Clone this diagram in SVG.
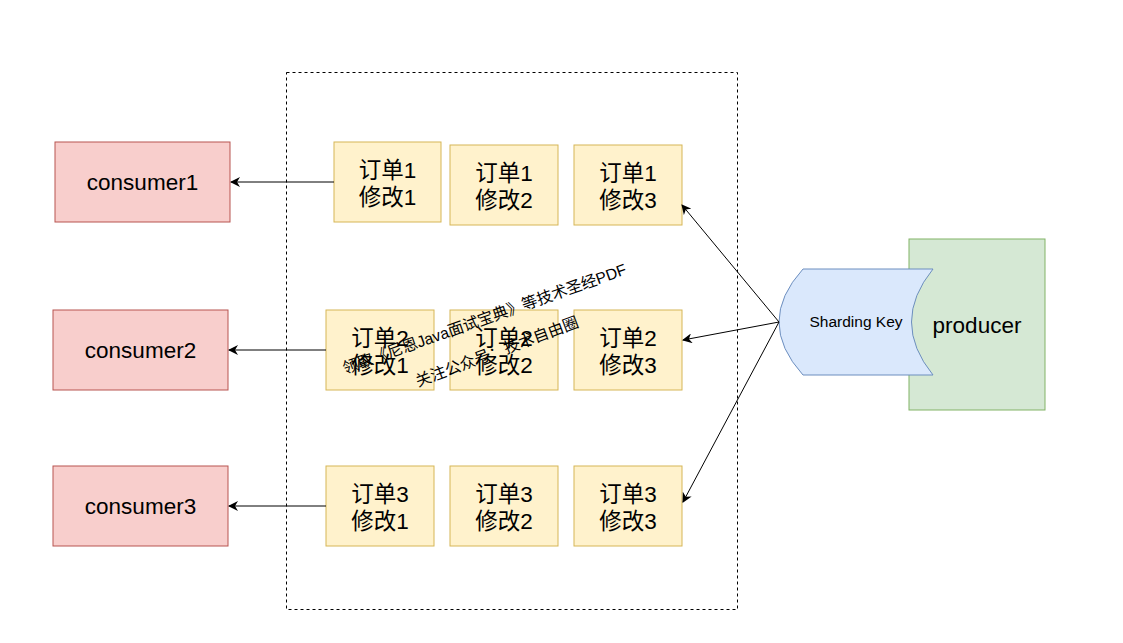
<svg xmlns="http://www.w3.org/2000/svg" width="1123" height="643" viewBox="0 0 1123 643">
<defs>
<style>
.box{fill:#fff2cc;stroke:#d6b656;stroke-width:1}
.cons{fill:#f8cecc;stroke:#b85450;stroke-width:1}
.t{font-family:"Liberation Sans","Noto Sans CJK SC",sans-serif;font-size:22.5px;fill:#000;text-anchor:middle}
.wm{font-family:"Liberation Sans","Noto Sans CJK SC",sans-serif;font-size:15.7px;fill:#000}
.e{stroke:#000;stroke-width:1;fill:none;marker-end:url(#arr)}
</style>
<marker id="arr" viewBox="0 0 10 10" refX="9" refY="5" markerWidth="10" markerHeight="10" markerUnits="userSpaceOnUse" orient="auto">
<path d="M0,0 L10,5 L0,10 L3,5 Z" fill="#000"/>
</marker>
</defs>
<rect width="1123" height="643" fill="#fff"/>
<g id="container"><rect x="286.5" y="72.5" width="451" height="537" fill="none" stroke="#000" stroke-dasharray="3,3"/></g>
<g id="c1"><rect class="cons" x="55" y="142" width="175" height="80"/><text class="t" x="142.5" y="190">consumer1</text></g>
<g id="c2"><rect class="cons" x="53" y="310" width="175" height="80"/><text class="t" x="140.5" y="358">consumer2</text></g>
<g id="c3"><rect class="cons" x="53" y="466" width="175" height="80"/><text class="t" x="140.5" y="514">consumer3</text></g>
<g id="b11"><rect class="box" x="334" y="142" width="107" height="80"/><text class="t" x="387.5" y="178">订单1</text><text class="t" x="387.5" y="205">修改1</text></g>
<g id="b12"><rect class="box" x="450" y="145" width="108" height="80"/><text class="t" x="504" y="181">订单1</text><text class="t" x="504" y="208">修改2</text></g>
<g id="b13"><rect class="box" x="574" y="145" width="108" height="80"/><text class="t" x="628" y="181">订单1</text><text class="t" x="628" y="208">修改3</text></g>
<g id="b21"><rect class="box" x="326" y="310" width="108" height="80"/><text class="t" x="380" y="346">订单2</text><text class="t" x="380" y="373">修改1</text></g>
<g id="b22"><rect class="box" x="450" y="310" width="108" height="80"/><text class="t" x="504" y="346">订单2</text><text class="t" x="504" y="373">修改2</text></g>
<g id="b23"><rect class="box" x="574" y="310" width="108" height="80"/><text class="t" x="628" y="346">订单2</text><text class="t" x="628" y="373">修改3</text></g>
<g id="b31"><rect class="box" x="326" y="466" width="108" height="80"/><text class="t" x="380" y="502">订单3</text><text class="t" x="380" y="529">修改1</text></g>
<g id="b32"><rect class="box" x="450" y="466" width="108" height="80"/><text class="t" x="504" y="502">订单3</text><text class="t" x="504" y="529">修改2</text></g>
<g id="b33"><rect class="box" x="574" y="466" width="108" height="80"/><text class="t" x="628" y="502">订单3</text><text class="t" x="628" y="529">修改3</text></g>
<g id="producer"><rect x="909" y="239" width="136" height="171" fill="#d5e8d4" stroke="#82b366"/><text class="t" x="977" y="333">producer</text></g>
<g id="shardingkey"><path d="M803,269 L933,269 Q890,322 933,375 L803,375 Q755,322 803,269 Z" fill="#dae8fc" stroke="#6c8ebf"/><text x="856" y="327" font-family="'Liberation Sans',sans-serif" font-size="15.5" text-anchor="middle">Sharding Key</text></g>
<g id="edges">
<line class="e" x1="334" y1="182" x2="231" y2="182"/>
<line class="e" x1="326" y1="350" x2="229" y2="350"/>
<line class="e" x1="326" y1="506" x2="229" y2="506"/>
<line class="e" x1="779" y1="322" x2="682" y2="205"/>
<line class="e" x1="779" y1="322" x2="683" y2="340"/>
<line class="e" x1="779" y1="322" x2="683" y2="502"/>
</g>
<g id="watermark">
<text class="wm" transform="translate(345,374) rotate(-19.5)">领取《尼恩Java面试宝典》等技术圣经PDF</text>
<text class="wm" transform="translate(418,387) rotate(-20.5)">关注公众号：技术自由圈</text>
</g>
</svg>
